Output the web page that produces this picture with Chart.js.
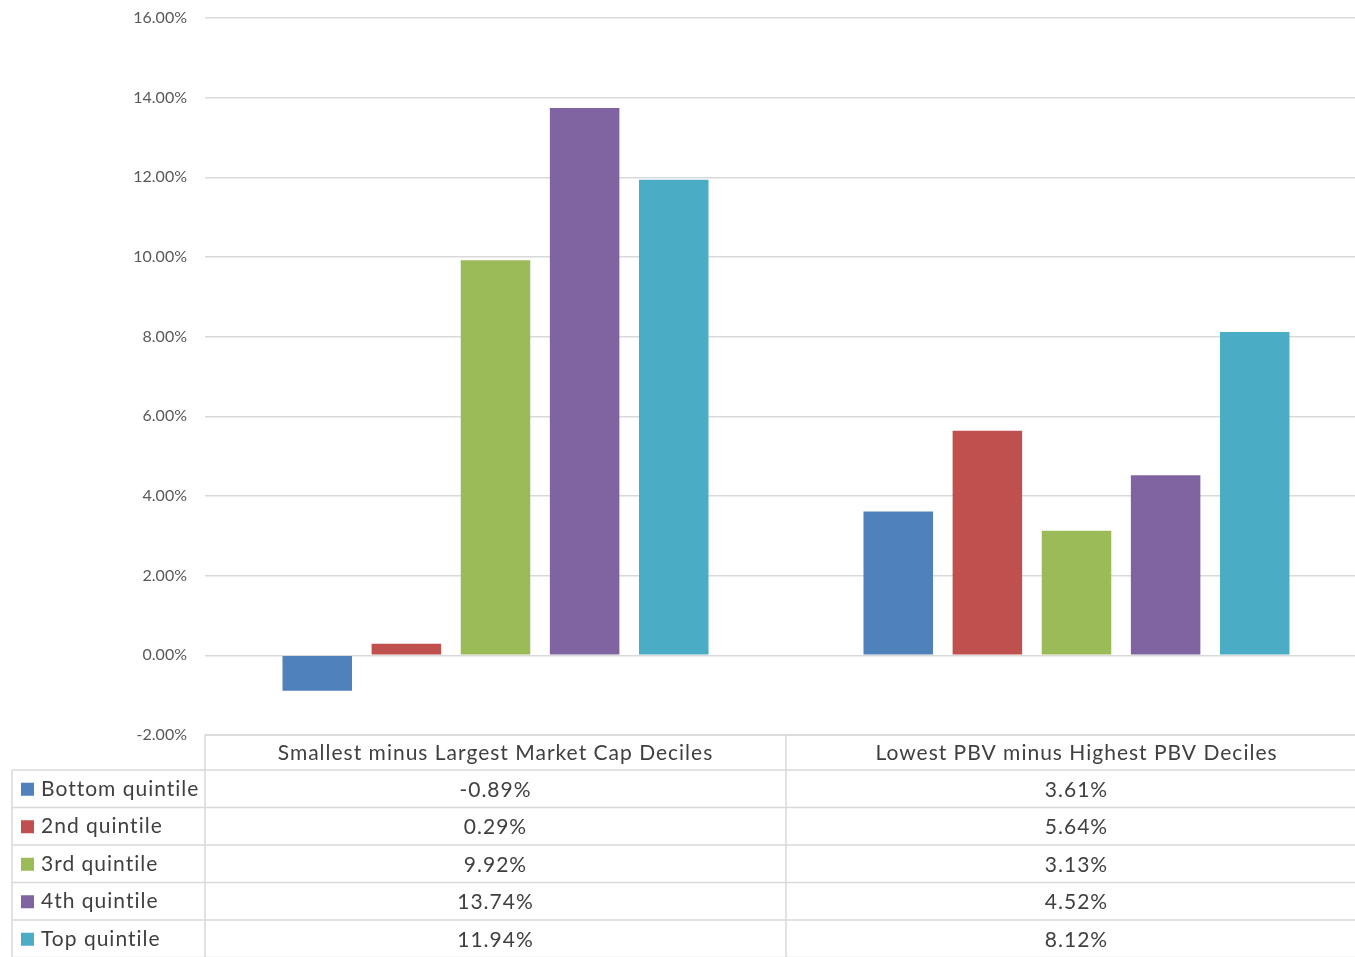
<!DOCTYPE html>
<html>
<head>
<meta charset="utf-8">
<script src="https://cdn.jsdelivr.net/npm/chart.js@4"></script>
<style>
  html, body { margin: 0; padding: 0; background: #fff; overflow: hidden; }
  #wrap { width: 1355px; height: 957px; overflow: hidden; }
</style>
</head>
<body>
<div id="wrap"><canvas id="myChart" width="1367" height="957"></canvas></div>
<script>
const categories = ['Smallest minus Largest Market Cap Deciles', 'Lowest PBV minus Highest PBV Deciles'];
const seriesNames = ['Bottom quintile', '2nd quintile', '3rd quintile', '4th quintile', 'Top quintile'];
const bottomQuintile = [-0.89, 3.61];
const secondQuintile = [0.29, 5.64];
const thirdQuintile = [9.92, 3.13];
const fourthQuintile = [13.74, 4.52];
const topQuintile = [11.94, 8.12];
const colors = ['#4F81BD', '#C0504D', '#9BBB59', '#8064A2', '#4BACC6'];

const allSeries = [bottomQuintile, secondQuintile, thirdQuintile, fourthQuintile, topQuintile];
const fontFam = 'Lato, "Open Sans", sans-serif';
const gridCol = '#d9d9d9';

// data table under the plot, drawn like Excel's "data table with legend keys"
const dataTable = {
    id: 'dataTable',
    afterDraw: (chart) => {
        const { ctx, chartArea: { left, right, bottom }, scales: { x } } = chart;
        const tableLeft = 12;
        const headerH = 35;
        const rowH = 37.5;
        const mid = (x.getPixelForValue(0) + x.getPixelForValue(1)) / 2;
        const cols = [left, mid, right];
        ctx.save();
        ctx.strokeStyle = gridCol;
        ctx.lineWidth = 1.5;

        // header top line + column lines
        ctx.beginPath();
        ctx.moveTo(left, bottom);
        ctx.lineTo(right, bottom);
        const tableBottom = bottom + headerH + rowH * seriesNames.length;
        cols.forEach(cx => {
            ctx.moveTo(cx, bottom);
            ctx.lineTo(cx, tableBottom);
        });
        ctx.moveTo(tableLeft, bottom + headerH);
        ctx.lineTo(tableLeft, tableBottom);
        for (let r = 0; r <= seriesNames.length; r++) {
            const yy = bottom + headerH + r * rowH;
            ctx.moveTo(tableLeft, yy);
            ctx.lineTo(right, yy);
        }
        ctx.stroke();

        ctx.font = '21px ' + fontFam;
        ctx.letterSpacing = '1px';
        ctx.fillStyle = '#404040';
        ctx.textBaseline = 'middle';
        ctx.textAlign = 'center';
        categories.forEach((c, i) => {
            ctx.fillText(c, x.getPixelForValue(i), bottom + headerH / 2 + 1);
        });
        seriesNames.forEach((name, r) => {
            const cy = bottom + headerH + r * rowH + rowH / 2;
            ctx.fillStyle = colors[r];
            ctx.fillRect(tableLeft + 9, cy - 6, 13, 13);
            ctx.fillStyle = '#404040';
            ctx.textAlign = 'left';
            ctx.fillText(name, tableLeft + 29, cy);
            ctx.textAlign = 'center';
            allSeries[r].forEach((v, i) => {
                ctx.fillText(v.toFixed(2) + '%', x.getPixelForValue(i), cy + 1);
            });
        });
        ctx.restore();
    }
};

new Chart(document.getElementById('myChart'), {
    type: 'bar',
    data: {
        labels: categories,
        datasets: seriesNames.map((name, i) => ({
            label: name,
            data: allSeries[i],
            backgroundColor: colors[i],
            borderWidth: 0,
            barPercentage: 0.78,
            categoryPercentage: 0.767
        }))
    },
    plugins: [dataTable],
    options: {
        responsive: false,
        animation: false,
        layout: { padding: { top: 18, right: 0, bottom: 222, left: 0 } },
        plugins: {
            legend: { display: false },
            tooltip: { enabled: false }
        },
        scales: {
            x: {
                display: false
            },
            y: {
                min: -2,
                max: 16,
                afterFit: (s) => {
                    s.width = 205;
                    s.paddingTop = 0;
                    s.paddingBottom = 0;
                },
                border: { display: false },
                grid: { color: gridCol, lineWidth: 1.5, drawTicks: false },
                ticks: {
                    stepSize: 2,
                    padding: 18,
                    color: '#595959',
                    font: { family: fontFam, size: 16 },
                    callback: (v) => v.toFixed(2) + '%'
                }
            }
        }
    }
});
</script>
</body>
</html>
